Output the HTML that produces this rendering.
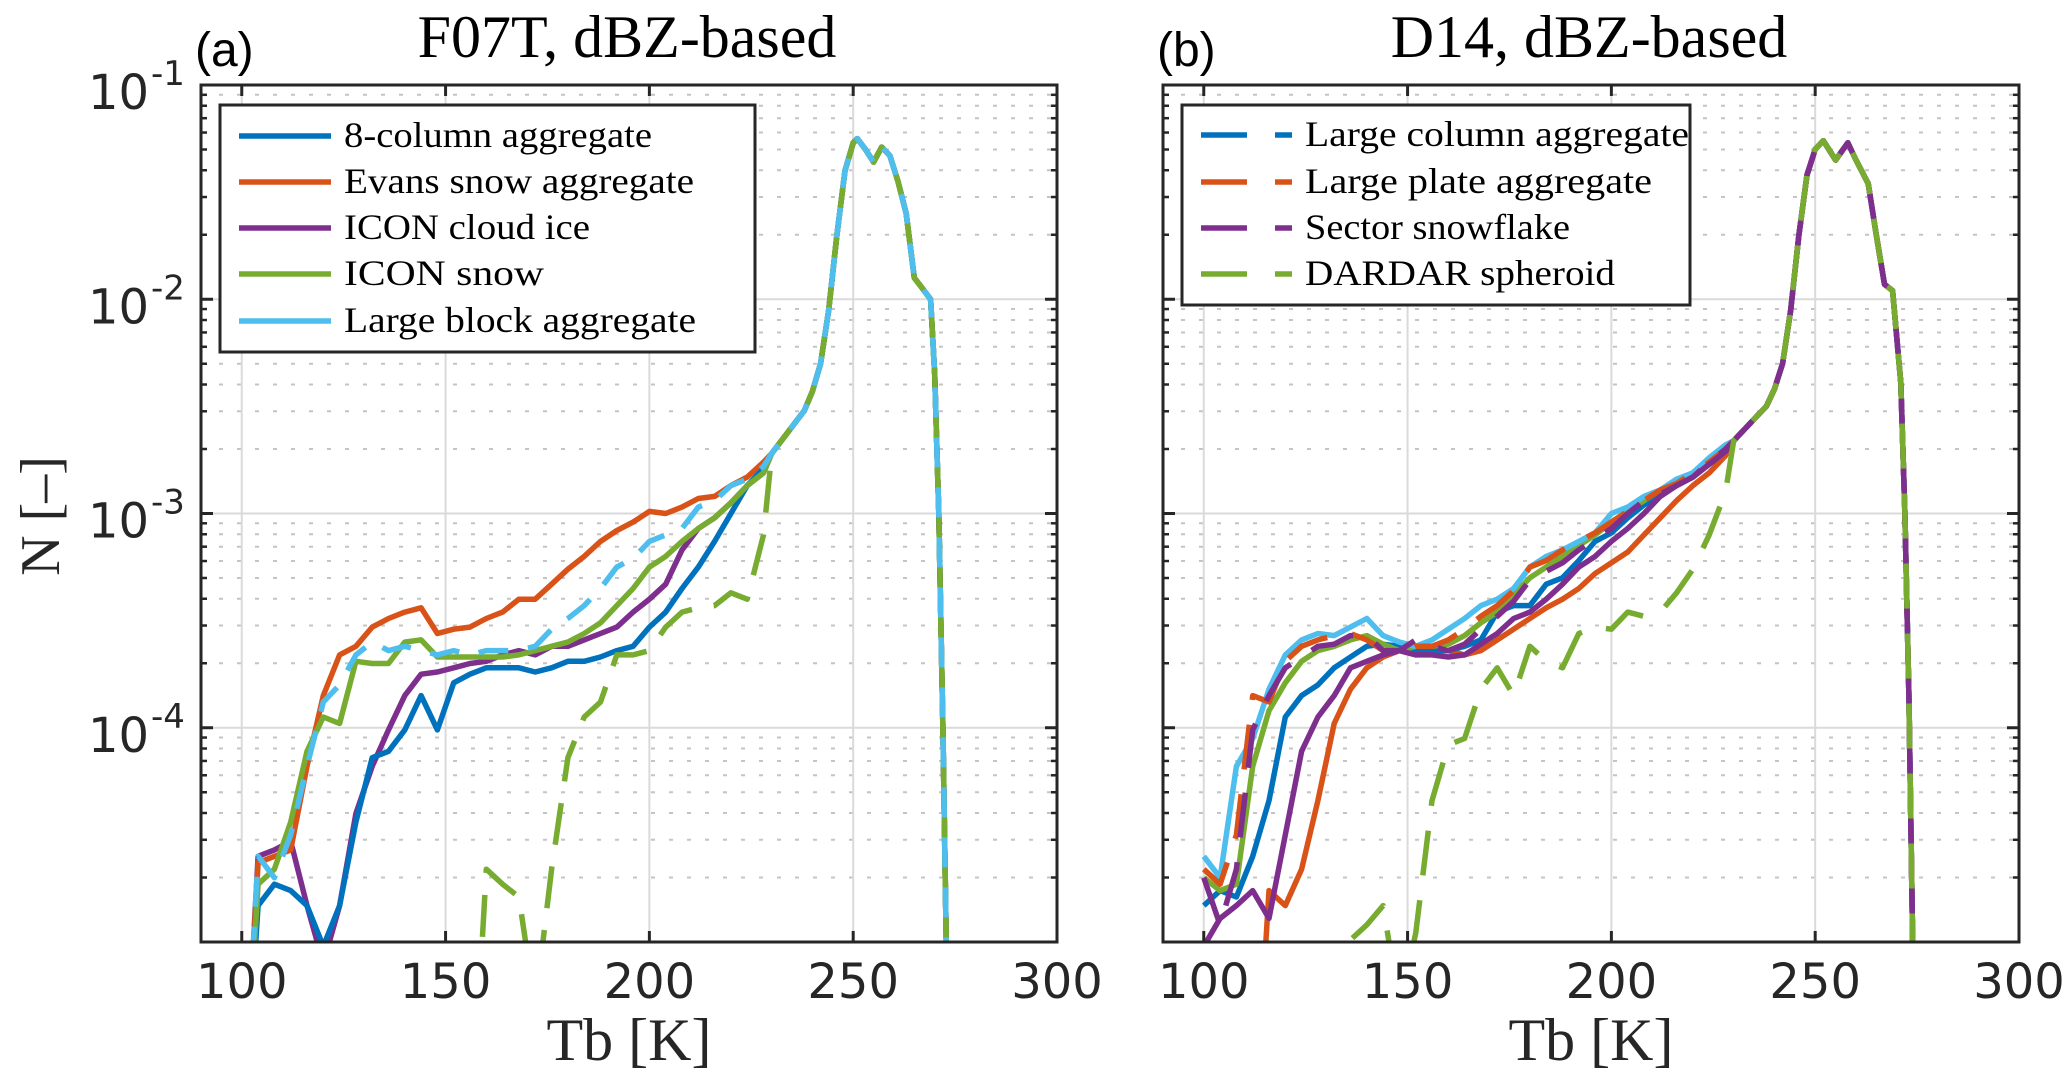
<!DOCTYPE html>
<html><head><meta charset="utf-8"><title>Tb histograms</title>
<style>
html,body{margin:0;padding:0;background:#fff;width:2067px;height:1092px;overflow:hidden;}
svg{display:block;}
</style></head>
<body>
<svg id="fig" width="2067" height="1092" viewBox="0 0 2067 1092" xmlns="http://www.w3.org/2000/svg">
<rect x="0" y="0" width="2067" height="1092" fill="#fff"/>
<defs>
<clipPath id="clipA"><rect x="201" y="85" width="856" height="857"/></clipPath>
<clipPath id="clipB"><rect x="1163" y="85" width="856" height="857"/></clipPath>
</defs>
<g id="panelA"></g>
<g id="panelB"></g>
</svg>
<script>
// ---- data (log10 N values) ----
const xLow = [100,104,108,112,116,120,124,128,132,136,140,144,148,152,156,160,164,168,172,176,180,184,188,192,196,200,204,208,212,216,220,224,228];
const xTailA = [230,232,234,236,238,240,242,244,246,248,250,251,253,255,257,259,261,263,265,267,269,270,271,272,273];
const tailA = [-2.72,-2.67,-2.62,-2.57,-2.52,-2.43,-2.30,-2.05,-1.70,-1.40,-1.27,-1.25,-1.30,-1.36,-1.29,-1.33,-1.45,-1.60,-1.90,-1.95,-2.00,-2.35,-3.00,-4.00,-5.20];
const xTailB = [230,232,234,236,238,240,242,244,246,248,250,252,255,258,260,263,265,267,269,271,272,273,274];
const tailB = [-2.66,-2.62,-2.58,-2.54,-2.50,-2.42,-2.30,-2.05,-1.70,-1.42,-1.30,-1.26,-1.35,-1.27,-1.35,-1.46,-1.70,-1.93,-1.96,-2.39,-3.00,-3.85,-5.10];

// Panel (a)
const a8col   = [-6,-4.83,-4.73,-4.76,-4.83,-5.02,-4.83,-4.44,-4.14,-4.11,-4.01,-3.85,-4.01,-3.79,-3.75,-3.72,-3.72,-3.72,-3.74,-3.72,-3.69,-3.69,-3.67,-3.64,-3.62,-3.53,-3.46,-3.35,-3.25,-3.13,-3.00,-2.87,-2.79];
const aEvans  = [-6,-4.63,-4.60,-4.57,-4.18,-3.85,-3.66,-3.62,-3.53,-3.49,-3.46,-3.44,-3.56,-3.54,-3.53,-3.49,-3.46,-3.40,-3.40,-3.33,-3.26,-3.20,-3.13,-3.08,-3.04,-2.99,-3.00,-2.97,-2.93,-2.92,-2.87,-2.83,-2.76];
const aIce    = [-6,-4.60,-4.57,-4.53,-4.83,-5.10,-4.83,-4.40,-4.18,-4.01,-3.85,-3.75,-3.74,-3.72,-3.70,-3.69,-3.66,-3.64,-3.66,-3.62,-3.62,-3.59,-3.56,-3.53,-3.46,-3.40,-3.33,-3.17,-3.07,-3.02,-2.95,-2.87,-2.81];
const aSnow   = [-6,-4.73,-4.66,-4.44,-4.11,-3.95,-3.98,-3.69,-3.70,-3.70,-3.60,-3.59,-3.67,-3.67,-3.67,-3.67,-3.67,-3.66,-3.64,-3.62,-3.60,-3.56,-3.51,-3.43,-3.35,-3.25,-3.20,-3.13,-3.07,-3.02,-2.95,-2.87,-2.81];
const aBlock  = [-6,-4.60,-4.70,-4.50,-4.18,-3.88,-3.80,-3.66,-3.60,-3.64,-3.62,-3.64,-3.66,-3.64,-3.66,-3.64,-3.64,-3.64,-3.62,-3.54,-3.49,-3.43,-3.35,-3.25,-3.21,-3.13,-3.10,-3.07,-2.97,-2.94,-2.87,-2.84,-2.78];
const aDardar = [-6,-6,-6,-6,-6,-6,-6,-6,-6,-6,-6,-6,-6,-6,-6,-4.66,-4.73,-4.79,-5.30,-4.66,-4.14,-3.95,-3.88,-3.66,-3.66,-3.64,-3.53,-3.46,-3.44,-3.43,-3.37,-3.40,-3.10];

// Panel (b)
const bBlock   = [-4.60,-4.70,-4.18,-4.05,-3.82,-3.66,-3.59,-3.56,-3.57,-3.53,-3.49,-3.57,-3.60,-3.62,-3.59,-3.54,-3.49,-3.43,-3.40,-3.35,-3.25,-3.20,-3.17,-3.13,-3.09,-3.00,-2.97,-2.92,-2.89,-2.84,-2.81,-2.74,-2.68];
const bPlateD  = [-4.66,-4.73,-4.50,-3.85,-3.88,-3.69,-3.62,-3.59,-3.57,-3.56,-3.59,-3.64,-3.66,-3.62,-3.62,-3.59,-3.54,-3.48,-3.43,-3.36,-3.25,-3.22,-3.17,-3.13,-3.09,-3.04,-2.99,-2.94,-2.89,-2.86,-2.81,-2.76,-2.70];
const bSectorD = [-4.70,-4.92,-4.66,-4.01,-3.85,-3.72,-3.67,-3.62,-3.61,-3.57,-3.57,-3.64,-3.64,-3.59,-3.62,-3.64,-3.61,-3.54,-3.48,-3.41,-3.31,-3.27,-3.23,-3.17,-3.12,-3.07,-3.00,-2.94,-2.91,-2.87,-2.83,-2.76,-2.70];
const bDardarS = [-4.70,-4.76,-4.73,-4.18,-3.92,-3.79,-3.69,-3.64,-3.62,-3.59,-3.57,-3.61,-3.64,-3.62,-3.62,-3.61,-3.57,-3.51,-3.46,-3.38,-3.30,-3.25,-3.20,-3.15,-3.10,-3.04,-2.99,-2.94,-2.89,-2.86,-2.81,-2.75,-2.69];
const bColumn  = [-4.83,-4.76,-4.79,-4.60,-4.34,-3.95,-3.85,-3.80,-3.72,-3.67,-3.62,-3.61,-3.62,-3.64,-3.64,-3.64,-3.62,-3.59,-3.46,-3.43,-3.43,-3.33,-3.30,-3.22,-3.13,-3.09,-3.02,-2.96,-2.91,-2.87,-2.83,-2.77,-2.71];
const bSector  = [-5.02,-4.89,-4.83,-4.76,-4.89,-4.50,-4.11,-3.95,-3.85,-3.72,-3.69,-3.66,-3.64,-3.66,-3.66,-3.67,-3.66,-3.61,-3.56,-3.49,-3.46,-3.40,-3.33,-3.25,-3.20,-3.13,-3.07,-3.00,-2.92,-2.87,-2.83,-2.77,-2.71];
const bPlate   = [-6,-6,-6,-6,-4.76,-4.83,-4.66,-4.34,-3.98,-3.82,-3.72,-3.67,-3.64,-3.66,-3.64,-3.64,-3.66,-3.64,-3.59,-3.54,-3.49,-3.44,-3.40,-3.35,-3.28,-3.23,-3.18,-3.10,-3.02,-2.94,-2.87,-2.81,-2.73];
const bDardar  = [-6,-6,-6,-6,-6,-6,-6,-6,-6,-4.99,-4.92,-4.83,-5.30,-4.96,-4.34,-4.08,-4.05,-3.82,-3.72,-3.85,-3.62,-3.69,-3.72,-3.56,-3.53,-3.54,-3.46,-3.48,-3.46,-3.37,-3.26,-3.10,-2.90];

const xTicks = [100,150,200,250,300];
const xTickLabels = ["100","150","200","250","300"];
const yDecades = [-1,-2,-3,-4];
const yTickExp = ["-1","-2","-3","-4"];
const legendA = ["8-column aggregate","Evans snow aggregate","ICON cloud ice","ICON snow","Large block aggregate"];
const legendB = ["Large column aggregate","Large plate aggregate","Sector snowflake","DARDAR spheroid"];

const C = {blue:"#0072BD", orange:"#D95319", purple:"#7E2F8E", green:"#77AC30", cyan:"#4DBEEE"};
const NS = "http://www.w3.org/2000/svg";
const Y0 = 85, Y1 = 942, XMIN = 90, XMAX = 300, LMIN = -5, LMAX = -1;

function mk(tag, attrs, parent){
  const e = document.createElementNS(NS, tag);
  for (const k in attrs) e.setAttribute(k, attrs[k]);
  parent.appendChild(e);
  return e;
}
function yS(l){ return Y0 + (LMAX - l) * (Y1 - Y0) / (LMAX - LMIN); }

function drawPanel(g, x0, x1, clipId, series, panelLabel, title, showY){
  const xS = x => x0 + (x - XMIN) * (x1 - x0) / (XMAX - XMIN);
  for (let d = LMIN; d < LMAX; d++){
    for (let m = 2; m <= 9; m++){
      const y = yS(d + Math.log10(m));
      const ln = mk('line', {x1:x0, x2:x1, y1:y, y2:y, stroke:'#c4c4c4', 'stroke-width':2, 'stroke-dasharray':'4 14'}, g);
      
      
      const t1 = mk('line', {x1:x0, x2:x0+6, y1:y, y2:y, stroke:'#262626', 'stroke-width':2.5}, g);
      
      
      const t2 = mk('line', {x1:x1, x2:x1-6, y1:y, y2:y, stroke:'#262626', 'stroke-width':2.5}, g);
      
      
    }
  }
  yDecades.forEach(d => {
    const y = yS(d);
    const ln = mk('line', {x1:x0, x2:x1, y1:y, y2:y, stroke:'#dadada', 'stroke-width':2}, g);
    
    
  });
  xTicks.forEach(t => {
    const x = xS(t);
    const ln = mk('line', {x1:x, x2:x, y1:Y0, y2:Y1, stroke:'#dadada', 'stroke-width':2}, g);
    
    
  });
  const sg = mk('g', {'clip-path':'url(#' + clipId + ')'}, g);
  
  
  series.forEach(s => {
    const pts = [];
    s.x.forEach((xv, i) => pts.push(xS(xv).toFixed(1) + ',' + yS(s.v[i]).toFixed(1)));
    const p = mk('polyline', {points:pts.join(' '), fill:'none', stroke:s.c, 'stroke-width':5.5, 'stroke-linejoin':'round'}, sg);
    if (s.dash) p.setAttribute('stroke-dasharray', s.dash);
    
    
  });
  xTicks.forEach(t => {
    const x = xS(t);
    const a = mk('line', {x1:x, x2:x, y1:Y1, y2:Y1-11, stroke:'#262626', 'stroke-width':3}, g);
    
    
    const b = mk('line', {x1:x, x2:x, y1:Y0, y2:Y0+11, stroke:'#262626', 'stroke-width':3}, g);
    
    
  });
  xTicks.forEach((t, i) => {
    const tx = mk('text', {x:xS(t), y:998, 'text-anchor':'middle', 'font-family':'DejaVu Sans, Liberation Sans, sans-serif', 'font-size':48, fill:'#262626'}, g);
    tx.textContent = xTickLabels[i];
    
    
  });
  yDecades.forEach((d, i) => {
    const y = yS(d);
    const a = mk('line', {x1:x0, x2:x0+12, y1:y, y2:y, stroke:'#262626', 'stroke-width':3}, g);
    
    
    const b = mk('line', {x1:x1, x2:x1-12, y1:y, y2:y, stroke:'#262626', 'stroke-width':3}, g);
    
    
    if (showY){
      const tx = mk('text', {x:88, y:y+24, 'font-family':'DejaVu Sans, Liberation Sans, sans-serif', 'font-size':48, fill:'#262626'}, g);
      tx.textContent = '10';
      
      
      const ex = mk('text', {x:151, y:y, 'font-family':'DejaVu Sans, Liberation Sans, sans-serif', 'font-size':34, fill:'#262626'}, g);
      ex.textContent = yTickExp[i];
      
      
    }
  });
  const box = mk('rect', {x:x0, y:Y0, width:x1-x0, height:Y1-Y0, fill:'none', stroke:'#262626', 'stroke-width':3}, g);
  
  
  const ti = mk('text', {x:(x0+x1)/2 - 2, y:57, 'text-anchor':'middle', 'font-family':'Liberation Serif, serif', 'font-size':60, fill:'#000'}, g);
  ti.textContent = title;
  
  
  const pl = mk('text', {x:x0 - 6, y:66, 'font-family':'Liberation Sans, sans-serif', 'font-size':48, fill:'#000'}, g);
  pl.textContent = panelLabel;
  
  
  const xl = mk('text', {x:(x0+x1)/2, y:1060, 'text-anchor':'middle', 'font-family':'Liberation Serif, serif', 'font-size':60, fill:'#262626'}, g);
  xl.textContent = 'Tb [K]';
  
  
  return xS;
}

function drawLegend(g, bx, by, bw, bh, labels, colors, ys, lineX, textX, dashed, textW){
  const r = mk('rect', {x:bx, y:by, width:bw, height:bh, fill:'#fff', stroke:'#262626', 'stroke-width':3}, g);
  
  
  labels.forEach((lab, i) => {
    const y = ys[i];
    const eg = mk('g', {}, g);
    
    
    if (dashed){
      mk('line', {x1:lineX, x2:lineX+46, y1:y, y2:y, stroke:colors[i], 'stroke-width':5.5}, eg);
      mk('line', {x1:lineX+74, x2:lineX+91, y1:y, y2:y, stroke:colors[i], 'stroke-width':5.5}, eg);
    } else {
      mk('line', {x1:lineX, x2:lineX+92, y1:y, y2:y, stroke:colors[i], 'stroke-width':5.5}, eg);
    }
    const t = mk('text', {x:textX, y:y+11, 'font-family':'Liberation Serif, serif', 'font-size':36, fill:'#000', textLength:textW[i], lengthAdjust:'spacingAndGlyphs'}, eg);
    t.textContent = lab;
    
    
  });
}

const gA = document.getElementById('panelA');
const gB = document.getElementById('panelB');
const xA = xLow.concat(xTailA);
const xB = xLow.concat(xTailB);

drawPanel(gA, 201, 1057, 'clipA', [
  {name:'series-icon-cloud-ice', x:xA, v:aIce.concat(tailA), c:C.purple},
  {name:'series-evans-snow', x:xA, v:aEvans.concat(tailA), c:C.orange},
  {name:'series-8-column', x:xA, v:a8col.concat(tailA), c:C.blue},
  {name:'series-icon-snow', x:xA, v:aSnow.concat(tailA), c:C.green},
  {name:'series-dardar-dashed', x:xA, v:aDardar.concat(tailA), c:C.green, dash:'42 22'},
  {name:'series-large-block', x:xA, v:aBlock.concat(tailA), c:C.cyan, dash:'30 20'}
], '(a)', 'F07T, dBZ-based', true);

drawPanel(gB, 1163, 2019, 'clipB', [
  {name:'series-large-plate-solid', x:xB, v:bPlate.concat(tailB), c:C.orange},
  {name:'series-column-solid', x:xB, v:bColumn.concat(tailB), c:C.blue},
  {name:'series-dardar-solid', x:xB, v:bDardarS.concat(tailB), c:C.green},
  {name:'series-block', x:xB, v:bBlock.concat(tailB), c:C.cyan},
  {name:'series-large-plate-dashed', x:xB, v:bPlateD.concat(tailB), c:C.orange, dash:'45 25'},
  {name:'series-sector-solid', x:xB, v:bSector.concat(tailB), c:C.purple},
  {name:'series-sector-dashed', x:xB, v:bSectorD.concat(tailB), c:C.purple, dash:'45 25'},
  {name:'series-dardar-spheroid', x:xB, v:bDardar.concat(tailB), c:C.green, dash:'45 25'}
], '(b)', 'D14, dBZ-based', false);

drawLegend(gA, 220, 105, 535, 247, legendA, [C.blue,C.orange,C.purple,C.green,C.cyan], [136,182,228,274,321], 239, 344, false, [308,350,246,200,352]);
drawLegend(gB, 1182, 105, 508, 200, legendB, [C.blue,C.orange,C.purple,C.green], [135,182,228,274], 1201, 1305, true, [384,347,265,310]);

const yl = mk('text', {x:0, y:0, 'text-anchor':'middle', 'font-family':'Liberation Serif, serif', 'font-size':56, fill:'#262626', transform:'translate(59,516) rotate(-90)'}, gA);
yl.textContent = 'N [–]';


</script>
</body></html>
